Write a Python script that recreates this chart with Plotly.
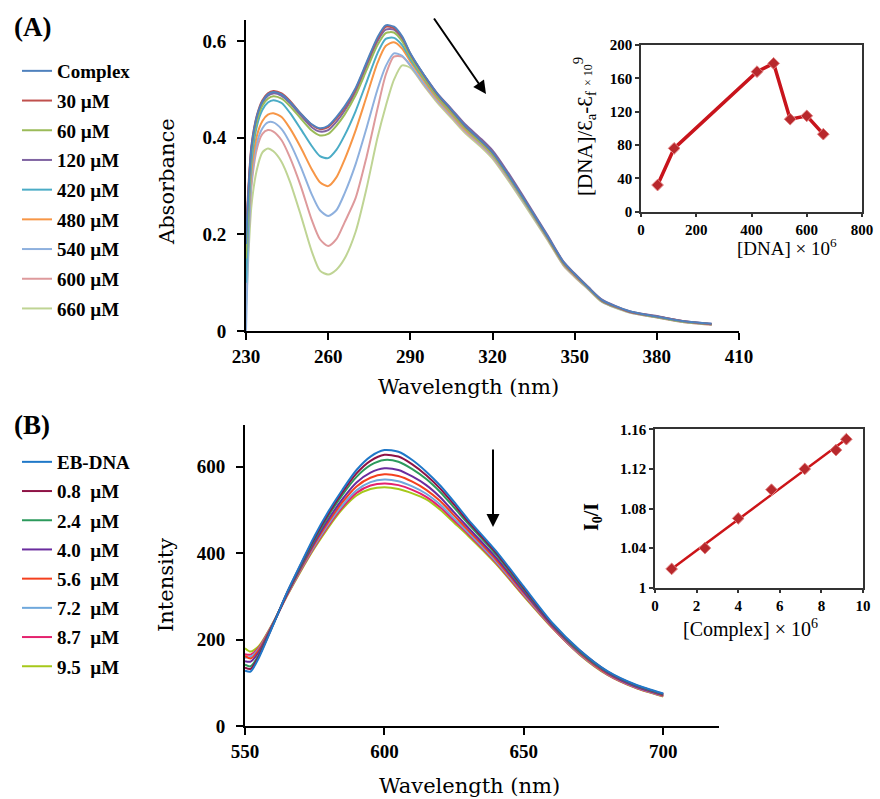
import numpy as np
import plotly.graph_objects as go

W, H = 880, 799

# ---------------- Panel A : UV-Vis absorption ----------------
abs_wavelength = [230, 231, 232, 234, 236, 238, 240, 243, 246, 250, 254, 257, 260, 263, 266, 270, 274, 278, 281,
                  284, 287, 290, 295, 300, 305, 310, 316, 320, 325, 333, 340, 346, 350, 355, 360, 370, 380, 390, 400]
abs_labels = ["Complex", "30 µM", "60 µM", "120 µM", "420 µM", "480 µM", "540 µM", "600 µM", "660 µM"]
abs_complex = [0.18, 0.30, 0.38, 0.445, 0.475, 0.49, 0.495, 0.49, 0.475, 0.45, 0.428, 0.42, 0.425, 0.443, 0.465, 0.503, 0.556, 0.608, 0.633,
               0.63, 0.61, 0.575, 0.53, 0.49, 0.458, 0.425, 0.393, 0.37, 0.33, 0.26, 0.197, 0.142, 0.118, 0.09, 0.064, 0.041, 0.030, 0.020, 0.015]
abs_30 = [0.20, 0.31, 0.385, 0.447, 0.478, 0.492, 0.497, 0.492, 0.477, 0.45, 0.427, 0.418, 0.422, 0.44, 0.462, 0.5, 0.553, 0.605, 0.63,
          0.627, 0.608, 0.574, 0.529, 0.489, 0.457, 0.424, 0.393, 0.37, 0.33, 0.26, 0.196, 0.141, 0.117, 0.09, 0.063, 0.04, 0.03, 0.02, 0.014]
abs_60 = [0.15, 0.28, 0.37, 0.435, 0.467, 0.481, 0.486, 0.481, 0.466, 0.44, 0.415, 0.405, 0.408, 0.425, 0.448, 0.488, 0.54, 0.592, 0.617,
          0.618, 0.6, 0.568, 0.524, 0.485, 0.453, 0.42, 0.389, 0.366, 0.327, 0.257, 0.194, 0.139, 0.116, 0.089, 0.062, 0.04, 0.029, 0.019, 0.014]
abs_120 = [0.19, 0.30, 0.378, 0.441, 0.472, 0.487, 0.492, 0.487, 0.472, 0.446, 0.422, 0.413, 0.416, 0.433, 0.456, 0.495, 0.548, 0.6, 0.624,
           0.624, 0.605, 0.572, 0.53, 0.491, 0.46, 0.428, 0.397, 0.374, 0.334, 0.263, 0.199, 0.143, 0.119, 0.091, 0.065, 0.041, 0.031, 0.02, 0.015]
abs_420 = [0.10, 0.25, 0.35, 0.425, 0.458, 0.473, 0.478, 0.472, 0.452, 0.418, 0.383, 0.362, 0.358, 0.375, 0.405, 0.455, 0.515, 0.575, 0.605,
           0.607, 0.592, 0.563, 0.522, 0.484, 0.452, 0.42, 0.389, 0.366, 0.327, 0.257, 0.194, 0.139, 0.116, 0.089, 0.062, 0.04, 0.029, 0.019, 0.014]
abs_480 = [0.12, 0.24, 0.33, 0.405, 0.435, 0.448, 0.451, 0.443, 0.42, 0.38, 0.335, 0.308, 0.3, 0.318, 0.355, 0.415, 0.485, 0.555, 0.59,
           0.598, 0.585, 0.558, 0.518, 0.48, 0.449, 0.417, 0.387, 0.364, 0.325, 0.256, 0.193, 0.138, 0.115, 0.088, 0.062, 0.04, 0.029, 0.019, 0.014]
abs_540 = [0.0, 0.2, 0.31, 0.39, 0.42, 0.432, 0.432, 0.418, 0.39, 0.34, 0.283, 0.25, 0.238, 0.25, 0.285, 0.345, 0.42, 0.5, 0.548,
           0.575, 0.57, 0.55, 0.512, 0.477, 0.446, 0.415, 0.385, 0.362, 0.323, 0.254, 0.192, 0.137, 0.114, 0.087, 0.061, 0.039, 0.029, 0.019, 0.014]
abs_600 = [0.08, 0.2, 0.3, 0.378, 0.408, 0.416, 0.413, 0.395, 0.36, 0.3, 0.23, 0.19, 0.176, 0.19, 0.225, 0.275, 0.36, 0.46, 0.53,
           0.568, 0.568, 0.55, 0.51, 0.475, 0.444, 0.413, 0.383, 0.36, 0.321, 0.253, 0.191, 0.136, 0.113, 0.087, 0.061, 0.039, 0.028, 0.018, 0.013]
abs_660 = [0.05, 0.17, 0.26, 0.335, 0.37, 0.378, 0.372, 0.35, 0.31, 0.24, 0.165, 0.125, 0.117, 0.127, 0.15, 0.205, 0.295, 0.40, 0.465,
           0.52, 0.55, 0.545, 0.508, 0.472, 0.441, 0.41, 0.38, 0.357, 0.318, 0.25, 0.189, 0.135, 0.112, 0.086, 0.06, 0.038, 0.028, 0.018, 0.013]

# inset A
dna_conc = [60, 120, 420, 480, 540, 600, 660]
dna_ratio = [32, 76, 168, 178, 111, 115, 93]

# ---------------- Panel B : EB-DNA emission ----------------
em_wavelength = [550, 552, 555, 560, 565, 570, 575, 580, 585, 590, 595, 600, 605, 610, 615, 620, 625, 630,
                 640, 650, 660, 670, 680, 690, 700]
em_labels = ["EB-DNA", "0.8  µM", "2.4  µM", "4.0  µM", "5.6  µM", "7.2  µM", "8.7  µM", "9.5  µM"]
em_ebdna = [128, 126, 158, 232, 308, 375, 440, 497, 547, 592, 623, 638, 634, 615, 588, 556, 518, 478, 405, 322, 240, 176, 127, 96, 75]
em_08 = [135, 132, 162, 233, 307, 373, 436, 492, 541, 584, 613, 627, 623, 605, 580, 549, 512, 473, 401, 319, 238, 175, 126, 95, 74]
em_24 = [142, 138, 165, 234, 306, 370, 432, 487, 535, 576, 603, 615, 611, 594, 571, 541, 505, 468, 397, 316, 237, 173, 125, 94, 73]
em_40 = [150, 149, 171, 235, 304, 367, 426, 479, 525, 563, 586, 596, 592, 577, 557, 529, 494, 459, 390, 311, 234, 171, 123, 92, 72]
em_56 = [162, 156, 176, 236, 303, 364, 422, 473, 518, 554, 574, 582, 578, 565, 546, 520, 487, 453, 385, 308, 232, 169, 121, 91, 70]
em_72 = [158, 160, 179, 237, 302, 362, 418, 468, 511, 545, 564, 570, 566, 554, 537, 512, 480, 448, 381, 305, 231, 167, 120, 90, 69]
em_87 = [166, 165, 182, 237, 301, 360, 415, 464, 506, 539, 556, 561, 557, 546, 530, 506, 475, 444, 378, 302, 229, 166, 119, 89, 69]
em_95 = [180, 172, 185, 238, 300, 358, 412, 460, 502, 533, 548, 552, 548, 538, 524, 500, 470, 440, 375, 300, 228, 165, 118, 88, 68]

# inset B
complex_conc = [0.8, 2.4, 4.0, 5.6, 7.2, 8.7, 9.2]
io_ratio = [1.019, 1.040, 1.070, 1.099, 1.120, 1.139, 1.150]

# ---------------- styles ----------------
abs_series = [abs_complex, abs_30, abs_60, abs_120, abs_420, abs_480, abs_540, abs_600, abs_660]
abs_colors = ["#4F81BD", "#C0504D", "#9BBB59", "#8064A2", "#4BACC6", "#F79646", "#8EB0DE", "#DE9A9C", "#BFD494"]
em_series = [em_ebdna, em_08, em_24, em_40, em_56, em_72, em_87, em_95]
em_colors = ["#1F78C8", "#8E1245", "#2C9A5C", "#6A2C9E", "#F4401E", "#6FA8DC", "#E4226E", "#A6C81A"]

SERIF = "Liberation Serif"
TITLE_FONT = "DejaVu Serif"


def px_x(p):
    return p / W


def px_y(p):
    return 1 - p / H


fig = go.Figure()

for i in reversed(range(len(abs_series))):
    fig.add_trace(go.Scatter(x=abs_wavelength, y=abs_series[i], mode="lines", name=abs_labels[i],
                             line=dict(color=abs_colors[i], width=2, shape="spline", smoothing=0.7),
                             xaxis="x", yaxis="y", legend="legend", legendgroup=f"a{i}",
                             legendrank=i + 1))

fig.add_trace(go.Scatter(x=dna_conc, y=dna_ratio, mode="lines+markers", showlegend=False,
                         line=dict(color="#C8141C", width=3.5),
                         marker=dict(symbol="diamond", size=9, color="#B8282C",
                                     line=dict(color="#E08080", width=1)),
                         xaxis="x3", yaxis="y3"))

for i in reversed(range(len(em_series))):
    fig.add_trace(go.Scatter(x=em_wavelength, y=em_series[i], mode="lines", name=em_labels[i],
                             line=dict(color=em_colors[i], width=2, shape="spline", smoothing=0.7),
                             xaxis="x2", yaxis="y2", legend="legend2", legendgroup=f"b{i}",
                             legendrank=i + 1))

coef = np.polyfit(complex_conc, io_ratio, 1)
fit_x = [complex_conc[0], complex_conc[-1]]
fit_y = [coef[0] * v + coef[1] for v in fit_x]
fig.add_trace(go.Scatter(x=fit_x, y=fit_y, mode="lines", showlegend=False,
                         line=dict(color="#CC1418", width=2.5), xaxis="x4", yaxis="y4"))
fig.add_trace(go.Scatter(x=complex_conc, y=io_ratio, mode="markers", showlegend=False,
                         marker=dict(symbol="diamond", size=9, color="#B8282C",
                                     line=dict(color="#E08080", width=1)),
                         xaxis="x4", yaxis="y4"))

main_ax = dict(showline=True, linewidth=2, linecolor="black", ticks="outside", ticklen=7,
               tickwidth=2, tickcolor="black", showgrid=False, zeroline=False,
               tickfont=dict(family=SERIF, size=19, color="black", weight="bold"))
main_y = dict(main_ax, ticklabelstandoff=7)
inset_ax = dict(showline=True, linewidth=1.5, linecolor="#333333", mirror=True, ticks="outside",
                ticklen=4, tickwidth=1.5, tickcolor="#333333", showgrid=False, zeroline=False,
                tickfont=dict(family=SERIF, size=15, color="black", weight="bold"))
leg_font = dict(family=SERIF, size=19, color="black", weight="bold")

fig.update_layout(
    width=W, height=H, margin=dict(l=0, r=0, t=0, b=0, autoexpand=False),
    paper_bgcolor="white", plot_bgcolor="white",
    xaxis=dict(main_ax, domain=[px_x(246), px_x(739)], range=[230, 410], tick0=230, dtick=30, anchor="y"),
    yaxis=dict(main_y, domain=[px_y(331), px_y(19.5)], range=[0, 0.645], tickvals=[0, 0.2, 0.4, 0.6], anchor="x"),
    xaxis2=dict(main_ax, domain=[px_x(245), px_x(719)], range=[550, 720], tickvals=[550, 600, 650, 700], anchor="y2"),
    yaxis2=dict(main_y, domain=[px_y(726), px_y(425)], range=[0, 696], tickvals=[0, 200, 400, 600], anchor="x2"),
    xaxis3=dict(inset_ax, domain=[px_x(641), px_x(862)], range=[0, 800], dtick=200, anchor="y3"),
    yaxis3=dict(inset_ax, domain=[px_y(211.7), px_y(45)], range=[0, 200], dtick=40, anchor="x3"),
    xaxis4=dict(inset_ax, domain=[px_x(655), px_x(863)], range=[0, 10], dtick=2, anchor="y4"),
    yaxis4=dict(inset_ax, domain=[px_y(587.7), px_y(429.3)], range=[1, 1.16],
                tickvals=[1, 1.04, 1.08, 1.12, 1.16], ticktext=["1", "1.04", "1.08", "1.12", "1.16"], anchor="x4"),
    legend=dict(x=px_x(17), y=px_y(52), xanchor="left", yanchor="top", tracegroupgap=2,
                font=leg_font, bgcolor="rgba(0,0,0,0)", itemwidth=30, traceorder="grouped"),
    legend2=dict(x=px_x(17), y=px_y(443), xanchor="left", yanchor="top", tracegroupgap=1.5,
                 font=leg_font, bgcolor="rgba(0,0,0,0)", itemwidth=30, traceorder="grouped"),
    showlegend=True,
)

ann = []
ann.append(dict(text="(A)", x=px_x(32), y=px_y(27), font=dict(family=SERIF, size=27, color="black", weight="bold")))
ann.append(dict(text="(B)", x=px_x(32), y=px_y(425), font=dict(family=SERIF, size=27, color="black", weight="bold")))
tf = dict(family=TITLE_FONT, size=21, color="black")
ann.append(dict(text="Absorbance", x=px_x(167), y=px_y(182), textangle=-90, font=tf))
ann.append(dict(text="Wavelength (nm)", x=px_x(468), y=px_y(387), font=tf))
ann.append(dict(text="Intensity", x=px_x(166), y=px_y(585), textangle=-90, font=tf))
ann.append(dict(text="Wavelength (nm)", x=px_x(469), y=px_y(786), font=tf))
itf = dict(family=SERIF, size=19, color="black")
ann.append(dict(text="[DNA] × 10<sup>6</sup>", x=px_x(787), y=px_y(247), font=itf))
ann.append(dict(text="[DNA]/Ɛ<sub>a</sub>-Ɛ<sub>f</sub> <span style='font-size:12px'>× 10</span><sup>9</sup>",
                x=px_x(584), y=px_y(127), textangle=-90, font=dict(family=SERIF, size=21, color="black")))
ann.append(dict(text="[Complex] × 10<sup>6</sup>", x=px_x(750), y=px_y(628), font=dict(family=SERIF, size=20, color="black")))
ann.append(dict(text="I<sub>0</sub>/I", x=px_x(592), y=px_y(517), textangle=-90,
                font=dict(family=SERIF, size=20, color="black", weight="bold")))
for a in ann:
    a.update(xref="paper", yref="paper", showarrow=False, xanchor="center", yanchor="middle")

# trend arrows (tail offsets in pixels relative to the head)
ann.append(dict(x=px_x(486), y=px_y(94), ax=433 - 486, ay=17 - 94, xref="paper", yref="paper",
                axref="pixel", ayref="pixel", showarrow=True, arrowhead=2, arrowsize=1.3,
                arrowwidth=2, arrowcolor="black", text=""))
ann.append(dict(x=px_x(493), y=px_y(527), ax=0, ay=448 - 527, xref="paper", yref="paper",
                axref="pixel", ayref="pixel", showarrow=True, arrowhead=2, arrowsize=1.3,
                arrowwidth=2, arrowcolor="black", text=""))
fig.update_layout(annotations=ann)

fig.write_html("out.html", config={"displayModeBar": False},
               post_script="document.body.style.margin='0px';")
